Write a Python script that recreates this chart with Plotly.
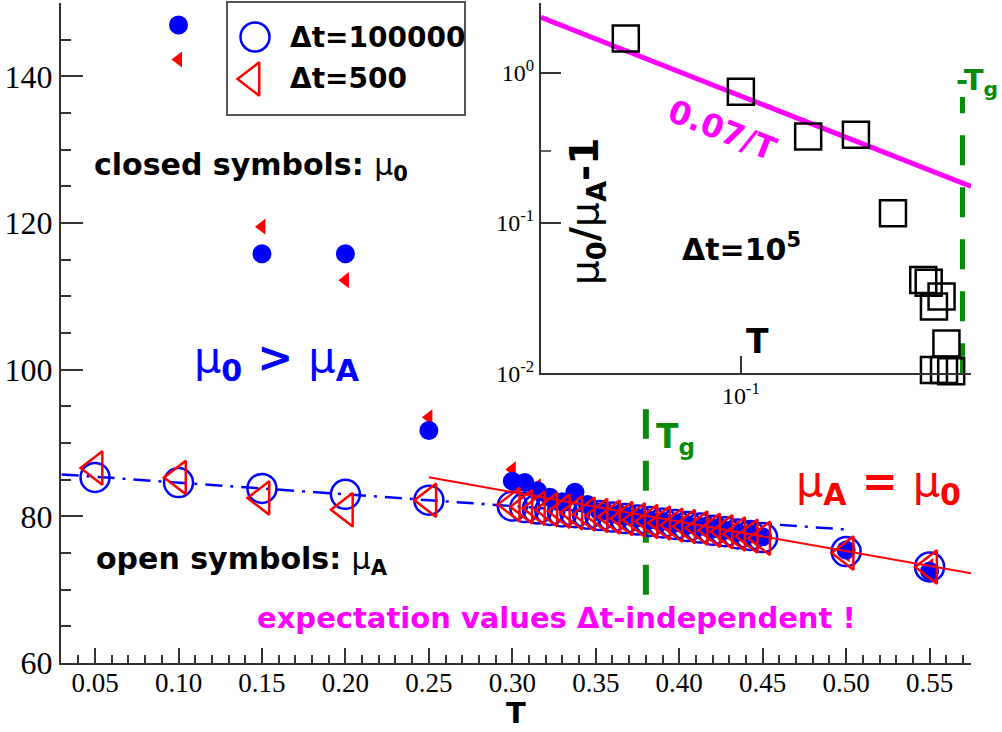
import numpy as np
import plotly.graph_objects as go

# ---------------- data ----------------
T = [0.05, 0.10, 0.15, 0.20, 0.25,
     0.30, 0.3075, 0.315, 0.3225, 0.33, 0.3375, 0.345, 0.3525, 0.36, 0.3675, 0.375,
     0.3825, 0.39, 0.3975, 0.405, 0.4125, 0.42, 0.4275, 0.435, 0.4425, 0.45,
     0.50, 0.55]

muA_dt100000 = [85.3, 84.6, 83.8, 83.0, 82.2,
                81.4, 81.2, 81.0, 80.8, 80.6, 80.5, 80.3, 80.1, 79.9, 79.7, 79.5,
                79.3, 79.1, 78.9, 78.6, 78.4, 78.1, 77.9, 77.6, 77.4, 77.1,
                75.2, 73.1]
mu0_dt100000 = [None, 147.0, 115.8, 115.8, 91.7,
                84.8, 84.6, 83.5, 82.6, 82.0, 83.3, 81.6, 80.6, 80.3, 80.0, 79.8,
                79.5, 79.3, 79.1, 78.8, 78.6, 78.3, 78.1, 77.8, 77.6, 77.2,
                75.4, 72.5]
muA_dt500 = [86.6, 85.3, 82.5, 80.9, 82.2,
             81.6, 81.3, 81.1, 80.9, 80.7, 80.5, 80.3, 80.1, 79.9, 79.7, 79.5,
             79.3, 79.1, 78.8, 78.6, 78.4, 78.1, 77.9, 77.6, 77.3, 77.0,
             75.0, 73.1]
mu0_dt500 = [None, 142.3, 119.5, 112.2, 93.5,
             86.4, 84.4, 84.1, 82.5, 82.0, 83.4, 81.5, 80.8, 80.3, 80.0, 79.7,
             79.5, 79.2, 79.0, 78.7, 78.5, 78.2, 78.0, 77.7, 77.4, 77.1,
             74.8, 73.2]

# linear fits: mu = a + b*T over [Tmin, Tmax]
fit_dt100000 = [86.2, -16.0, 0.03, 0.50]
fit_equal = [95.4, -40.3, 0.25, 0.575]

Tg = 0.38
Tg_main_span = [69.3, 94.6]

# inset: mu0/muA - 1 for dt = 1e5
T_inset = [0.05, 0.10, 0.15, 0.20, 0.25, 0.30, 0.31, 0.32, 0.335, 0.345, 0.32, 0.34, 0.355]
ratio_inset = [1.69, 0.748, 0.376, 0.386, 0.116, 0.0418, 0.0401, 0.0278, 0.0324, 0.0158,
               0.0105, 0.0105, 0.0103]
inset_fit_coef = 0.07
inset_fit_T = [0.03, 0.4]
Tg_inset_span = [0.01, 0.69]

inset_x_minor = [0.04, 0.05, 0.06, 0.07, 0.08, 0.09, 0.2, 0.3]
inset_y_minor = [0.02, 0.03, 0.04, 0.05, 0.06, 0.07, 0.08, 0.09,
                 0.2, 0.3, 0.4, 0.5, 0.6, 0.7, 0.8, 0.9, 2]

# ---------------- layout geometry (pixels) ----------------
W, H = 1002, 732
ML, MR, MT, MB = 61, 31, 3, 69
PW, PH = W - ML - MR, H - MT - MB
INSET_L, INSET_B = 541, 373.3
INSET_W, INSET_H = (W - MR) - INSET_L, INSET_B - MT


def px(x):
    return (x - ML) / PW


def py(y):
    return (H - MB - y) / PH


BLUE, RED, MAG, GRN = "#0000ff", "#ff0000", "#ff00ff", "#0a8a0a"
AX = "#333333"
SANS = "DejaVu Sans"
SERIF = "Liberation Serif"

fig = go.Figure()

# blue dash-dot fit
tb = np.array(fit_dt100000[2:])
fig.add_trace(go.Scatter(x=tb, y=fit_dt100000[0] + fit_dt100000[1] * tb, mode="lines",
                         line=dict(color=BLUE, width=2.5, dash="17px,8px,3px,8px"),
                         hoverinfo="skip"))
# Tg dashed (main)
fig.add_trace(go.Scatter(x=[Tg, Tg], y=Tg_main_span, mode="lines",
                         line=dict(color=GRN, width=6, dash="30px,22px"), hoverinfo="skip"))

# closed symbols
fig.add_trace(go.Scatter(x=T, y=mu0_dt500, mode="markers", cliponaxis=False,
                         marker=dict(symbol="triangle-left", size=14, color=RED,
                                     line=dict(width=0))))
fig.add_trace(go.Scatter(x=T, y=mu0_dt100000, mode="markers", cliponaxis=False,
                         marker=dict(symbol="circle", size=19, color=BLUE,
                                     line=dict(width=0))))
# open symbols
fig.add_trace(go.Scatter(x=T, y=muA_dt100000, mode="markers", cliponaxis=False,
                         marker=dict(symbol="circle-open", size=29, color=BLUE,
                                     line=dict(width=2.5, color=BLUE))))
fig.add_trace(go.Scatter(x=T, y=muA_dt500, mode="markers", cliponaxis=False,
                         marker=dict(symbol="triangle-left-open", size=29, color=RED,
                                     line=dict(width=2.5, color=RED))))
# red fit line
tr = np.array(fit_equal[2:])
fig.add_trace(go.Scatter(x=tr, y=fit_equal[0] + fit_equal[1] * tr, mode="lines",
                         line=dict(color=RED, width=2), hoverinfo="skip"))

# ---------------- inset ----------------
ti = np.array(inset_fit_T)
fig.add_trace(go.Scatter(x=ti, y=inset_fit_coef / ti, mode="lines", xaxis="x2", yaxis="y2",
                         line=dict(color=MAG, width=5), hoverinfo="skip"))
fig.add_trace(go.Scatter(x=[Tg, Tg], y=Tg_inset_span, mode="lines", xaxis="x2", yaxis="y2",
                         line=dict(color=GRN, width=5, dash="30px,22px"), hoverinfo="skip"))
fig.add_trace(go.Scatter(x=T_inset, y=ratio_inset, mode="markers", xaxis="x2", yaxis="y2",
                         cliponaxis=False,
                         marker=dict(symbol="square-open", size=26, color="black",
                                     line=dict(width=2.5, color="black"))))

# ---------------- legend keys (overlay pixel axes) ----------------
legend_keys = [
    dict(x=255, y=37, symbol="circle-open", size=29, color=BLUE),
    dict(x=252, y=79, symbol="triangle-left-open", size=29, color=RED),
]
for k in legend_keys:
    fig.add_trace(go.Scatter(x=[k["x"]], y=[k["y"]], mode="markers", xaxis="x3", yaxis="y3",
                             cliponaxis=False,
                             marker=dict(symbol=k["symbol"], size=k["size"], color=k["color"],
                                         line=dict(width=2.5, color=k["color"]))))

shapes = [dict(type="rect", xref="paper", yref="paper", x0=px(227), x1=px(465),
               y0=py(115), y1=py(2), line=dict(color="#555555", width=2),
               fillcolor="rgba(255,255,255,0)", layer="above")]
# inset minor ticks (log axes)
for v in inset_x_minor:
    shapes.append(dict(type="line", xref="x2", yref="y2 domain", x0=np.log10(v), x1=np.log10(v),
                       y0=0, y1=7 / INSET_H, line=dict(color=AX, width=1.5)))
for v in inset_y_minor:
    shapes.append(dict(type="line", xref="x2 domain", yref="y2", y0=np.log10(v), y1=np.log10(v),
                       x0=0, x1=10 / INSET_W, line=dict(color=AX, width=1.5)))


def ann(text, x, y, size, color="black", xanchor="left", yanchor="middle", angle=0):
    return dict(text=text, x=px(x), y=py(y), xref="paper", yref="paper", showarrow=False,
                xanchor=xanchor, yanchor=yanchor, textangle=angle, borderpad=0,
                font=dict(family=SANS, size=size, color=color))


annotations = [
    ann("<b>Δt=100000</b>", 289, 37, 28),
    ann("<b>Δt=500</b>", 289, 79, 28),
    ann("<b>closed symbols: </b>μ<sub><b>0</b></sub>", 93, 166, 30),
    ann("<b>open symbols: </b>μ<sub><b>A</b></sub>", 95, 560, 30),
    ann("μ<sub><b>0</b></sub><b> > </b>μ<sub><b>A</b></sub>", 193, 360, 43, BLUE),
    ann("μ<sub><b>A</b></sub><b> = </b>μ<sub><b>0</b></sub>", 795, 484, 43, RED),
    ann("<b>expectation values Δt-independent !</b>", 256, 618, 29, MAG),
    ann("<b>T<sub>g</sub></b>", 655, 438, 33, GRN),
    ann("<b>-T<sub>g</sub></b>", 955, 82, 29, GRN),
    ann("μ<sub><b>0</b></sub><b>/</b>μ<sub><b>A</b></sub><b>-1</b>", 587, 212, 39,
        xanchor="center", angle=-90),
    ann("<b>Δt=10<sup>5</sup></b>", 741, 247, 30, xanchor="center"),
    ann("<b>T</b>", 757, 341, 33, xanchor="center"),
    ann("<b>0.07/T</b>", 722, 130, 32, MAG, xanchor="center", angle=21.5),
    ann("<b>T</b>", 516, 713, 29, xanchor="center"),
]

axis_common = dict(showgrid=False, zeroline=False, showline=True, linecolor=AX, linewidth=2,
                   ticks="inside", tickcolor=AX, tickwidth=1.5, mirror=False, automargin=False)

fig.update_layout(
    width=W, height=H, margin=dict(l=ML, r=MR, t=MT, b=MB, pad=0, autoexpand=False),
    paper_bgcolor="white", plot_bgcolor="rgba(0,0,0,0)", showlegend=False,
    xaxis=dict(**axis_common, range=[0.0296, 0.5748], tick0=0.05, dtick=0.05, tickformat=".2f",
               ticklen=15, tickfont=dict(family=SERIF, size=27, color="black"),
               ticklabelstandoff=-5,
               minor=dict(ticks="inside", ticklen=8, dtick=0.01, tickcolor=AX, tickwidth=1.5)),
    yaxis=dict(**axis_common, range=[60, 150], tick0=60, dtick=20, ticklen=22,
               tickfont=dict(family=SERIF, size=32, color="black"),
               minor=dict(ticks="inside", ticklen=10, dtick=5, tickcolor=AX, tickwidth=1.5)),
    xaxis2=dict(**axis_common, type="log", domain=[px(INSET_L), 1.0], anchor="y2",
                range=[np.log10(0.03), np.log10(0.4)],
                tickmode="array", tickvals=[0.1], ticktext=["10<sup>-1</sup>"], ticklen=17,
                tickfont=dict(family=SERIF, size=24, color="black")),
    yaxis2=dict(**axis_common, type="log", domain=[py(INSET_B), 1.0], anchor="x2",
                range=[-2, -2 + (INSET_B - MT) / 150.3],
                tickmode="array", tickvals=[0.01, 0.1, 1],
                ticktext=["10<sup>-2</sup>", "10<sup>-1</sup>", "10<sup>0</sup>"],
                ticklen=20, tickfont=dict(family=SERIF, size=24, color="black")),
    xaxis3=dict(domain=[0, 1], range=[ML, W - MR], visible=False, anchor="y3", fixedrange=True),
    yaxis3=dict(domain=[0, 1], range=[H - MB, MT], visible=False, anchor="x3", fixedrange=True),
    shapes=shapes,
    annotations=annotations,
)

fig.write_html("out.html", config={"displayModeBar": False},
               post_script="document.body.style.margin='0px';")
